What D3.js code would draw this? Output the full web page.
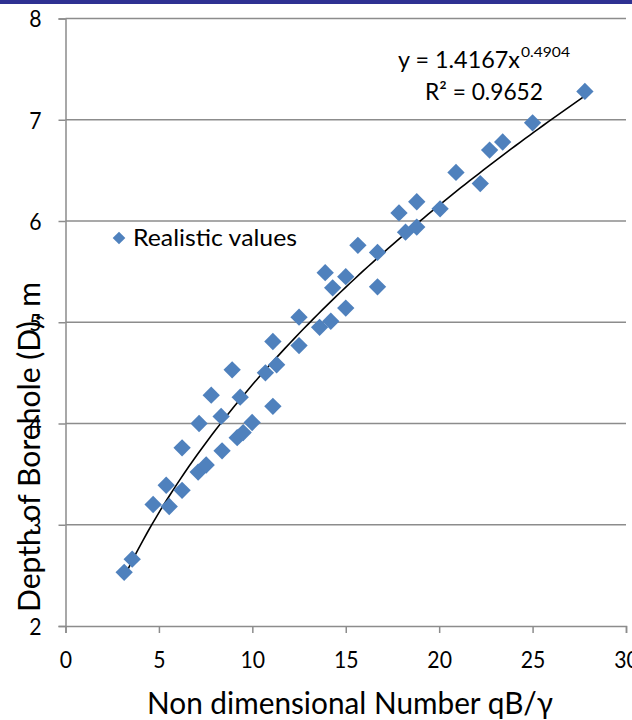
<!DOCTYPE html>
<html><head><meta charset="utf-8">
<script src="https://cdn.jsdelivr.net/npm/d3@7"></script>
<style>html,body{margin:0;padding:0;background:#fff;}svg{display:block;}</style>
</head><body>
<svg id="chart" width="632" height="720"></svg>
<script>
const xValues = [3.14,3.57,4.69,5.55,5.39,6.24,6.24,7.1,7.53,7.15,8.33,8.38,9.19,9.51,9.99,11.1,7.8,8.92,9.35,
  10.7,11.3,11.1,12.5,12.5,13.6,14.2,13.9,15.0,14.3,15.0,15.65,16.7,16.7,
  17.85,18.8,18.2,18.8,20.05,20.9,22.2,22.7,23.4,25.0,27.8];
const yValues = [2.53,2.66,3.2,3.18,3.39,3.34,3.76,3.52,3.59,4.0,4.07,3.73,3.86,3.91,4.01,4.17,4.28,4.53,4.26,
  4.5,4.58,4.81,5.05,4.77,4.95,5.01,5.49,5.45,5.34,5.14,5.76,5.69,5.35,
  6.08,6.19,5.89,5.94,6.12,6.48,6.37,6.7,6.78,6.97,7.28];
const xTicks = [0,5,10,15,20,25,30];
const yTicks = [2,3,4,5,6,7,8];
const fitA = 1.4167, fitB = 0.4904;
const seriesName = "Realistic values";

const svg = d3.select("#chart");
const font = "Lato, 'Open Sans', sans-serif";
const x = d3.scaleLinear().domain([0,30]).range([65.5,626]);
const y = d3.scaleLinear().domain([2,8]).range([626,18.5]);

svg.append("rect").attr("x",0).attr("y",0).attr("width",632).attr("height",4).attr("fill","#2E3192");

// gridlines
svg.append("g").selectAll("line").data(yTicks.filter(d=>d>2)).join("line")
  .attr("x1",x(0)).attr("x2",x(30)).attr("y1",d=>y(d)).attr("y2",d=>y(d))
  .attr("stroke","#8c8c8c").attr("stroke-width",1.5);

// axes
const gx = svg.append("g").attr("transform",`translate(0,${y(2)})`)
  .call(d3.axisBottom(x).tickValues(xTicks).tickFormat(d3.format("d")).tickSizeOuter(0).tickSize(7));
const gy = svg.append("g").attr("transform",`translate(${x(0)},0)`)
  .call(d3.axisLeft(y).tickValues(yTicks).tickFormat(d3.format("d")).tickSizeOuter(0).tickSize(7).tickPadding(17));
[gx,gy].forEach(g=>{
  g.select(".domain").attr("stroke","#8c8c8c").attr("stroke-width",1.5);
  g.selectAll(".tick line").attr("stroke","#8c8c8c").attr("stroke-width",1.5);
  g.selectAll(".tick text").attr("font-family",font).attr("font-size",23).attr("fill","#000")
    .attr("textLength",d=>String(d).length*12.3).attr("lengthAdjust","spacingAndGlyphs");
});
gx.selectAll(".tick text").attr("y",42).attr("dy",0);
gy.selectAll(".tick text").attr("dy","0.36em");

// trendline
const xmin = d3.min(xValues), xmax = d3.max(xValues);
const fitPts = d3.range(0,101).map(i=>{const xv = xmin+(xmax-xmin)*i/100; return [xv, fitA*Math.pow(xv,fitB)];});
svg.append("path").datum(fitPts)
  .attr("d",d3.line().x(d=>x(d[0])).y(d=>y(d[1])))
  .attr("fill","none").attr("stroke","#000").attr("stroke-width",1.6);

// points
const diamond = d3.symbol().type(d3.symbolSquare).size(150);
svg.append("g").selectAll("path").data(xValues.map((v,i)=>[v,yValues[i]])).join("path")
  .attr("d",diamond)
  .attr("transform",d=>`translate(${x(d[0])},${y(d[1])}) rotate(45)`)
  .attr("fill","#4F81BD");

// legend
svg.append("path").attr("d",d3.symbol().type(d3.symbolSquare).size(80))
  .attr("transform","translate(119,238) rotate(45)").attr("fill","#4F81BD");
svg.append("text").attr("x",133).attr("y",246).attr("font-family",font).attr("font-size",24)
  .attr("textLength",164).attr("lengthAdjust","spacingAndGlyphs")
  .attr("fill","#000").text(seriesName);

// equation
svg.append("text").attr("x",398).attr("y",68).attr("font-family",font).attr("font-size",23).attr("fill","#000")
  .attr("textLength",122).attr("lengthAdjust","spacingAndGlyphs").text("y = 1.4167x");
svg.append("text").attr("x",521).attr("y",57).attr("font-family",font).attr("font-size",14).attr("fill","#000")
  .attr("textLength",49).attr("lengthAdjust","spacingAndGlyphs").text("0.4904");
svg.append("text").attr("x",425).attr("y",100).attr("font-family",font).attr("font-size",23).attr("fill","#000")
  .attr("textLength",118).attr("lengthAdjust","spacingAndGlyphs").text("R² = 0.9652");

// axis titles
svg.append("text").attr("x",350).attr("y",714).attr("text-anchor","middle")
  .attr("font-family",font).attr("font-size",30).attr("fill","#000")
  .attr("textLength",406).attr("lengthAdjust","spacingAndGlyphs").text("Non dimensional Number qB/γ");
svg.append("text").attr("transform","translate(40,447) rotate(-90)").attr("text-anchor","middle")
  .attr("font-family",font).attr("font-size",30).attr("fill","#000")
  .attr("textLength",330).attr("lengthAdjust","spacingAndGlyphs").text("Depth of Borehole (D), m");
</script>
</body></html>
